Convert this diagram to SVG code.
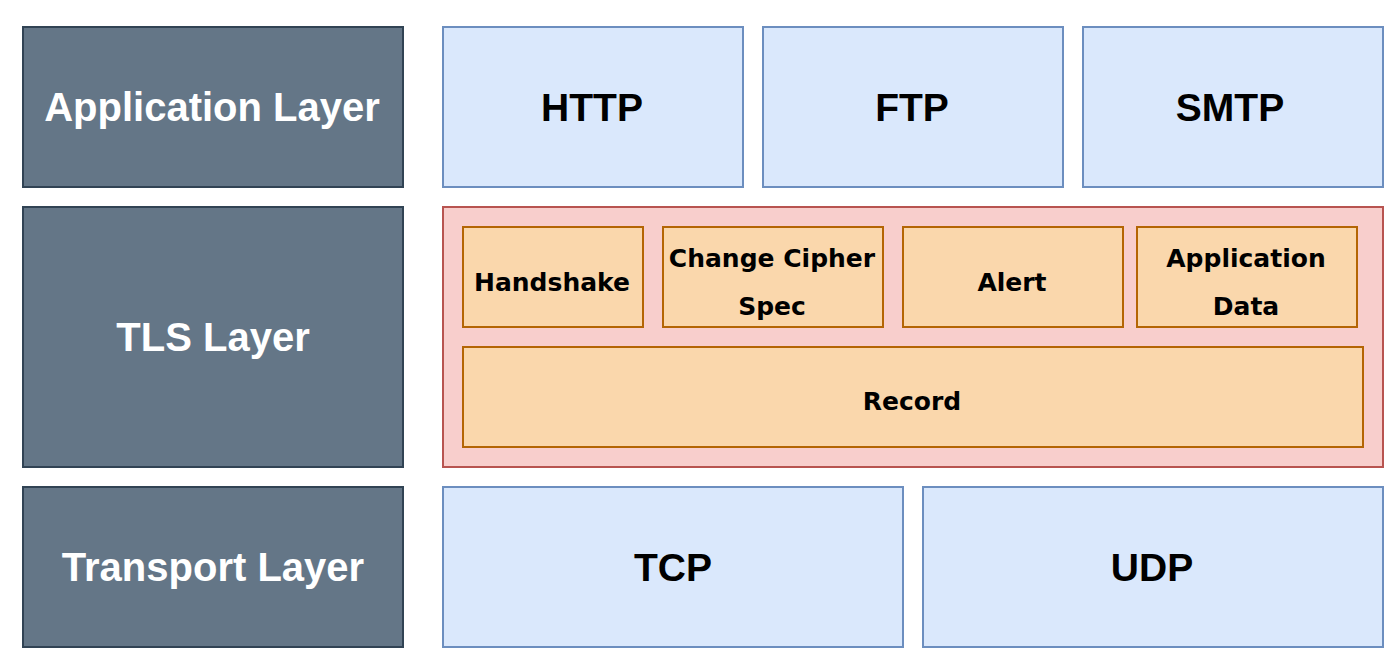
<svg xmlns="http://www.w3.org/2000/svg" width="1400" height="668" viewBox="0 0 1400 668">
<style>
.layer{fill:#647687;stroke:#314354;stroke-width:2}
.proto{fill:#dae8fc;stroke:#6c8ebf;stroke-width:2}
.tls{fill:#f8cecc;stroke:#b85450;stroke-width:2}
.sub{fill:#fad7ac;stroke:#b46504;stroke-width:2}
.lt{font-family:"Liberation Sans",Arial,sans-serif;font-weight:bold;font-size:40px;fill:#ffffff;text-anchor:middle}
.pt{font-family:"Liberation Sans",Arial,sans-serif;font-weight:bold;font-size:39px;fill:#000000;text-anchor:middle}
.st{font-family:"DejaVu Sans",Verdana,sans-serif;font-weight:bold;font-size:25px;fill:#000000;text-anchor:middle}
</style>
<rect width="1400" height="668" fill="#ffffff"/>
<g id="application-layer"><rect class="layer" x="23" y="27" width="380" height="160"/><text class="lt" x="212" y="121">Application Layer</text></g>
<g id="tls-layer"><rect class="layer" x="23" y="207" width="380" height="260"/><text class="lt" x="213" y="351">TLS Layer</text></g>
<g id="transport-layer"><rect class="layer" x="23" y="487" width="380" height="160"/><text class="lt" x="213" y="581">Transport Layer</text></g>
<g id="http"><rect class="proto" x="443" y="27" width="300" height="160"/><text class="pt" x="592" y="121">HTTP</text></g>
<g id="ftp"><rect class="proto" x="763" y="27" width="300" height="160"/><text class="pt" x="912" y="121">FTP</text></g>
<g id="smtp"><rect class="proto" x="1083" y="27" width="300" height="160"/><text class="pt" x="1230" y="121">SMTP</text></g>
<g id="tls"><rect class="tls" x="443" y="207" width="940" height="260"/></g>
<g id="handshake"><rect class="sub" x="463" y="227" width="180" height="100"/><text class="st" x="552" y="291">Handshake</text></g>
<g id="change-cipher-spec"><rect class="sub" x="663" y="227" width="220" height="100"/><text class="st" x="772" y="267">Change Cipher</text><text class="st" x="772" y="315">Spec</text></g>
<g id="alert"><rect class="sub" x="903" y="227" width="220" height="100"/><text class="st" x="1012" y="291">Alert</text></g>
<g id="application-data"><rect class="sub" x="1137" y="227" width="220" height="100"/><text class="st" x="1246" y="267">Application</text><text class="st" x="1246" y="315">Data</text></g>
<g id="record"><rect class="sub" x="463" y="347" width="900" height="100"/><text class="st" x="912" y="410">Record</text></g>
<g id="tcp"><rect class="proto" x="443" y="487" width="460" height="160"/><text class="pt" x="673" y="581">TCP</text></g>
<g id="udp"><rect class="proto" x="923" y="487" width="460" height="160"/><text class="pt" x="1152" y="581">UDP</text></g>
<g id="connectors"></g>
</svg>
